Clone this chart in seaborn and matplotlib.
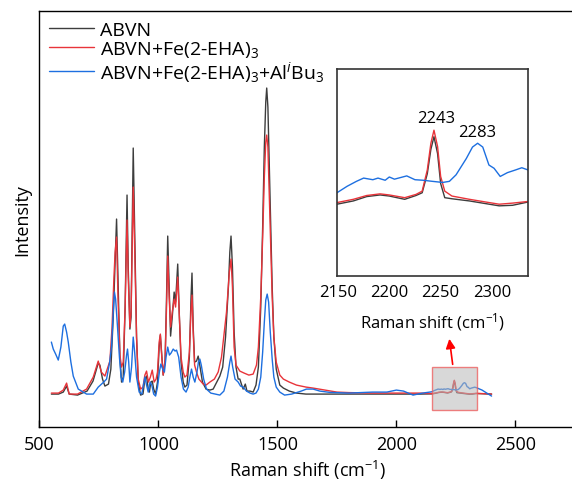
import numpy as np
import pandas as pd
import matplotlib.pyplot as plt
from matplotlib.patches import Rectangle
import seaborn as sns

# spectra (Raman shift in cm-1, intensity in a.u.)
abvn_x = [550, 580, 600, 614, 625, 660, 700, 725, 747, 754, 765, 775, 790, 800, 810, 817, 824, 830, 838,
          845, 852, 860, 868, 873, 880, 885, 894, 900, 908, 915, 925, 935, 943, 950, 956, 962, 968, 974,
          980, 988, 996, 1003, 1008, 1014, 1020, 1028, 1034, 1039, 1045, 1051, 1058, 1066, 1072, 1081,
          1088, 1095, 1104, 1111, 1120, 1130, 1137, 1141, 1146, 1152, 1160, 1167, 1175, 1185, 1200, 1216,
          1230, 1245, 1258, 1270, 1282, 1294, 1300, 1305, 1311, 1318, 1326, 1335, 1342, 1350, 1356, 1365,
          1372, 1385, 1398, 1410, 1420, 1430, 1438, 1445, 1451, 1455, 1460, 1466, 1472, 1478, 1485, 1495,
          1510, 1525, 1550, 1580, 1620, 1700, 1800, 1900, 2000, 2100,
          2149, 2165, 2178, 2191, 2200, 2215, 2226, 2232, 2237, 2240.5, 2243.5, 2247, 2250, 2254, 2261,
          2278, 2294, 2307, 2320, 2335, 2360, 2400]
abvn_y = [33, 33, 35, 41, 33, 32, 36, 46, 64, 62, 48, 41, 43, 58, 110, 160, 208, 150, 70,
          45, 50, 120, 232, 160, 98, 110, 279, 200, 90, 45, 32, 33, 48, 51, 40, 35, 45, 46,
          38, 33, 45, 80, 92, 72, 52, 66, 130, 191, 140, 91, 110, 135, 125, 163,
          110, 65, 45, 40, 42, 70, 130, 154, 100, 65, 66, 71, 60, 45, 38, 37,
          38, 45, 51, 60, 90, 140, 175, 191, 160, 95, 60, 48, 48, 42, 38, 43,
          36, 36, 35, 42, 60, 120, 200, 280, 325, 339, 320, 260, 200, 140, 90, 58,
          42, 39, 36, 34, 33, 33, 33, 33, 33, 33,
          33.2, 33.8, 34.6, 34.9, 34.7, 34.1, 34.8, 35.3, 38.8, 43.3, 45.6, 42.5, 37.0, 34.4, 34.2,
          33.8, 33.3, 32.9, 33.0, 33.6, 33.4, 33]

fe_x = [550, 580, 600, 614, 625, 660, 698, 726, 747, 760, 775, 796, 805, 813, 818, 824, 830, 838,
        845, 852, 860, 868, 873, 880, 885, 894, 900, 908, 915, 925, 935, 943, 950, 958, 966, 974,
        982, 990, 996, 1003, 1008, 1014, 1020, 1028, 1034, 1039, 1045, 1051, 1058, 1066, 1072, 1081,
        1088, 1095, 1104, 1111, 1120, 1130, 1137, 1141, 1146, 1152, 1160, 1170, 1188, 1200, 1216,
        1235, 1251, 1265, 1286, 1298, 1305, 1311, 1318, 1326, 1342, 1360, 1380, 1398, 1412, 1420,
        1430, 1438, 1445, 1451, 1455, 1460, 1466, 1472, 1478, 1485, 1495,
        1510, 1525, 1550, 1580, 1620, 1650, 1700, 1750, 1800, 1900, 2000, 2100,
        2149, 2165, 2178, 2191, 2200, 2215, 2226, 2232, 2237, 2240.5, 2243.5, 2247, 2250, 2254, 2261,
        2278, 2294, 2307, 2320, 2335, 2360, 2400]
fe_y = [34, 34, 37, 44, 33, 33, 38, 50, 66, 55, 51, 66, 100, 150, 175, 190, 130, 72,
        60, 65, 120, 207, 150, 100, 115, 240, 180, 90, 48, 38, 40, 52, 56, 45, 50, 57,
        45, 48, 55, 85, 93, 70, 52, 68, 120, 171, 130, 100, 115, 128, 120, 150,
        110, 70, 55, 50, 52, 75, 118, 132, 95, 62, 55, 48, 43, 42, 45,
        48, 55, 70, 115, 155, 168, 140, 80, 62, 56, 54, 52, 53, 62, 80,
        130, 190, 250, 285, 292, 280, 230, 180, 130, 90, 65,
        52, 48, 45, 42, 40, 39, 37, 35, 34.5, 34, 34, 34,
        33.5, 34.1, 34.8, 35.1, 34.9, 34.4, 35.0, 35.6, 39.5, 44.4, 46.8, 43.8, 38.3, 35.6, 34.7,
        34.1, 33.6, 33.2, 33.4, 33.7, 33.5, 33]

al_x = [550, 558, 568, 579, 590, 600, 606, 614, 621, 632, 642, 663, 698, 726, 747, 770, 782, 795, 803,
        810, 815, 820, 828, 836, 843, 850, 858, 866, 870, 875, 880, 887, 894, 900, 908, 919, 930, 943,
        950, 957, 965, 972, 980, 988, 996, 1004, 1010, 1018, 1025, 1032, 1039, 1046, 1053, 1062, 1070,
        1076, 1085, 1095, 1105, 1116, 1125, 1132, 1139, 1146, 1153, 1162, 1168, 1174, 1180, 1190, 1202,
        1220, 1240, 1258, 1275, 1290, 1300, 1305, 1312, 1322, 1335, 1345, 1356, 1370, 1385, 1398, 1410,
        1420, 1430, 1438, 1445, 1451, 1457, 1463, 1470, 1478, 1485, 1495,
        1510, 1530, 1560, 1600, 1622, 1650, 1678, 1720, 1800, 1900, 1960, 2000, 2030, 2070, 2110,
        2149, 2159, 2168, 2175, 2184, 2189, 2196, 2200, 2205, 2217, 2225, 2233, 2242, 2252, 2258.5,
        2265, 2275, 2281, 2286, 2291, 2297, 2302, 2308, 2315, 2323, 2329, 2335, 2360, 2400]
al_y = [85, 78, 73, 67, 80, 101, 103, 95, 85, 65, 51, 38, 33, 33, 40, 45, 48, 65, 81,
        115, 135, 128, 100, 70, 50, 45, 55, 72, 78, 65, 45, 60, 90, 75, 50, 35, 33, 50,
        42, 35, 45, 42, 33, 31, 40, 55, 63, 58, 55, 70, 80, 72, 74, 78, 76,
        77, 70, 50, 38, 35, 40, 50, 58, 50, 45, 55, 65, 68, 62, 48, 38,
        34, 33, 32, 36, 50, 65, 71, 60, 48, 45, 41, 40, 36, 34, 33, 34,
        38, 50, 75, 105, 127, 133, 125, 95, 68, 50, 40,
        35, 32, 33, 36, 38, 38, 36, 34.7, 34, 35, 35, 37, 36, 32, 34,
        35.3, 36.5, 37.4, 38.0, 37.7, 38.0, 37.6, 38.2, 37.8, 38.4, 37.7, 37.6, 37.4, 37.2, 37.4,
        38.6, 41.6, 43.7, 44.4, 43.7, 40.4, 39.8, 38.3, 39.0, 39.5, 39.9, 39.5, 37, 31]

names = ['ABVN', 'ABVN+Fe(2-EHA)$_3$', 'ABVN+Fe(2-EHA)$_3$+Al$^i$Bu$_3$']
colors = ['#3d3d3d', '#e8343a', '#1d6fe0']

df = pd.concat([
    pd.DataFrame({'shift': abvn_x, 'intensity': abvn_y, 'sample': names[0]}),
    pd.DataFrame({'shift': fe_x, 'intensity': fe_y, 'sample': names[1]}),
    pd.DataFrame({'shift': al_x, 'intensity': al_y, 'sample': names[2]}),
])

sns.set_style('ticks')
plt.rcParams['font.family'] = ['Open Sans', 'DejaVu Sans']
plt.rcParams['mathtext.fontset'] = 'custom'
plt.rcParams['mathtext.rm'] = 'Open Sans'
plt.rcParams['mathtext.it'] = 'Open Sans:italic'
plt.rcParams['axes.linewidth'] = 1.0
for k in ['text.color', 'axes.labelcolor', 'xtick.color', 'ytick.color', 'axes.edgecolor']:
    plt.rcParams[k] = 'black'

fig = plt.figure(figsize=(5.72, 4.81), dpi=100)
ax = fig.add_axes([0.069, 0.110, 0.936, 0.865])
sns.lineplot(data=df, x='shift', y='intensity', hue='sample', palette=colors,
             estimator=None, sort=True, lw=1.0, ax=ax)

ax.set_xlim(500, 2750)
ax.set_ylim(0, 416)
ax.set_xticks([500, 1000, 1500, 2000, 2500])
ax.set_yticks([])
ax.tick_params(axis='x', direction='in', length=5, width=1.0, labelsize=13, pad=6)
ax.set_xlabel('Raman shift (cm$^{-1}$)', fontsize=13, labelpad=3)
ax.set_ylabel('Intensity', fontsize=13, labelpad=6)
ax.spines['right'].set_visible(False)

ax.legend(loc='upper left', bbox_to_anchor=(0.0, 1.0), frameon=False, fontsize=14,
          handlelength=2.3, handletextpad=0.3, labelspacing=0.0, borderaxespad=0.1,
          borderpad=0.4)

ax.add_patch(Rectangle((2149, 17), 189, 43, facecolor=(0.72, 0.72, 0.72, 0.55),
                       edgecolor=(0.93, 0.35, 0.35, 0.75), lw=1.0, zorder=5))
ax.annotate('', xy=(2221, 91), xytext=(2238, 60),
            arrowprops=dict(arrowstyle='-|>', color='red', lw=1.2, mutation_scale=14))

# inset
axi = fig.add_axes([0.589, 0.424, 0.334, 0.430])
sns.lineplot(data=df, x='shift', y='intensity', hue='sample', palette=colors,
             estimator=None, sort=True, lw=1.0, ax=axi, legend=False)
axi.set_xlim(2149, 2335)
axi.set_ylim(20, 58)
axi.set_xticks([2150, 2200, 2250, 2300])
axi.set_yticks([])
axi.tick_params(axis='x', length=0, labelsize=12, pad=6)
axi.set_xlabel('Raman shift (cm$^{-1}$)', fontsize=12, labelpad=7)
axi.set_ylabel('')
for s in axi.spines.values():
    s.set_linewidth(1.2)
    s.set_color('#333333')
axi.text(2245.5, 49, '2243', ha='center', va='center', fontsize=12)
axi.text(2285.5, 46.5, '2283', ha='center', va='center', fontsize=12)

fig.savefig('out.png', dpi=100)
